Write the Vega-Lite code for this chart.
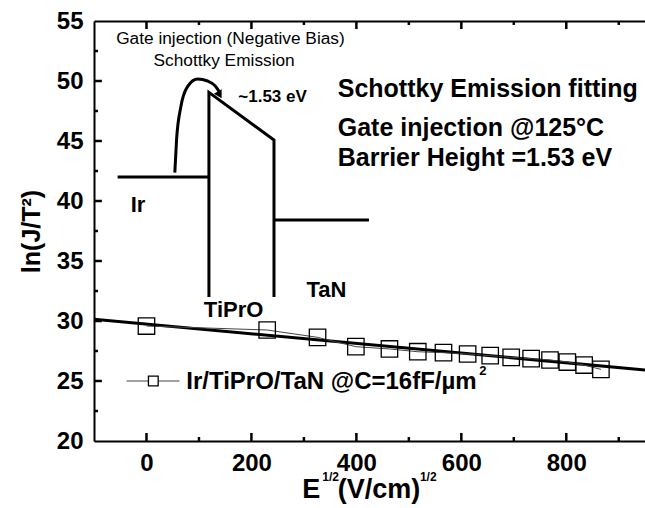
{
  "$schema": "https://vega.github.io/schema/vega-lite/v6.json",
  "width": 551,
  "height": 420,
  "autosize": "none",
  "padding": {"left": 94, "top": 21, "right": 0, "bottom": 67},
  "config": {
    "font": "Liberation Sans",
    "view": {"stroke": null},
    "axis": {
      "grid": false,
      "domainColor": "black",
      "domainWidth": 2,
      "tickColor": "black",
      "tickWidth": 2,
      "labelColor": "black",
      "labelFont": "Liberation Sans",
      "labelFontSize": 24,
      "labelFontWeight": "bold",
      "titleColor": "black",
      "titleFont": "Liberation Sans",
      "titleFontWeight": "bold"
    }
  },
  "datasets": {
    "fit": [{"x": -100, "y": 30.14}, {"x": 950, "y": 25.92}],
    "pts": [
      {"x": 0, "y": 29.58}, {"x": 230, "y": 29.25}, {"x": 326, "y": 28.64}, {"x": 399, "y": 27.86},
      {"x": 463, "y": 27.67}, {"x": 517, "y": 27.44}, {"x": 566, "y": 27.36}, {"x": 612, "y": 27.25},
      {"x": 655, "y": 27.11}, {"x": 695, "y": 26.97}, {"x": 733, "y": 26.86}, {"x": 769, "y": 26.75},
      {"x": 802, "y": 26.58}, {"x": 834, "y": 26.33}, {"x": 866, "y": 25.97}
    ],
    "band": [
      {"seg": "Ir", "o": 0, "x": -55, "y": 42}, {"seg": "Ir", "o": 1, "x": 119, "y": 42},
      {"seg": "bar", "o": 0, "x": 119, "y": 32}, {"seg": "bar", "o": 1, "x": 119, "y": 49.05},
      {"seg": "bar", "o": 2, "x": 243, "y": 45.08}, {"seg": "bar", "o": 3, "x": 243, "y": 32},
      {"seg": "TaN", "o": 0, "x": 243, "y": 38.42}, {"seg": "TaN", "o": 1, "x": 424, "y": 38.42}
    ],
    "ticks": [
      {"k": "b0", "o": 0, "x": 0, "y": 20}, {"k": "b0", "o": 1, "x": 0, "y": 20.67},
      {"k": "b200", "o": 0, "x": 200, "y": 20}, {"k": "b200", "o": 1, "x": 200, "y": 20.67},
      {"k": "b400", "o": 0, "x": 400, "y": 20}, {"k": "b400", "o": 1, "x": 400, "y": 20.67},
      {"k": "b600", "o": 0, "x": 600, "y": 20}, {"k": "b600", "o": 1, "x": 600, "y": 20.67},
      {"k": "b800", "o": 0, "x": 800, "y": 20}, {"k": "b800", "o": 1, "x": 800, "y": 20.67},
      {"k": "b100", "o": 0, "x": 100, "y": 20}, {"k": "b100", "o": 1, "x": 100, "y": 20.33},
      {"k": "b300", "o": 0, "x": 300, "y": 20}, {"k": "b300", "o": 1, "x": 300, "y": 20.33},
      {"k": "b500", "o": 0, "x": 500, "y": 20}, {"k": "b500", "o": 1, "x": 500, "y": 20.33},
      {"k": "b700", "o": 0, "x": 700, "y": 20}, {"k": "b700", "o": 1, "x": 700, "y": 20.33},
      {"k": "b900", "o": 0, "x": 900, "y": 20}, {"k": "b900", "o": 1, "x": 900, "y": 20.33},
      {"k": "t0", "o": 0, "x": 0, "y": 55}, {"k": "t0", "o": 1, "x": 0, "y": 54.33},
      {"k": "t200", "o": 0, "x": 200, "y": 55}, {"k": "t200", "o": 1, "x": 200, "y": 54.33},
      {"k": "t400", "o": 0, "x": 400, "y": 55}, {"k": "t400", "o": 1, "x": 400, "y": 54.33},
      {"k": "t600", "o": 0, "x": 600, "y": 55}, {"k": "t600", "o": 1, "x": 600, "y": 54.33},
      {"k": "t800", "o": 0, "x": 800, "y": 55}, {"k": "t800", "o": 1, "x": 800, "y": 54.33},
      {"k": "t100", "o": 0, "x": 100, "y": 55}, {"k": "t100", "o": 1, "x": 100, "y": 54.67},
      {"k": "t300", "o": 0, "x": 300, "y": 55}, {"k": "t300", "o": 1, "x": 300, "y": 54.67},
      {"k": "t500", "o": 0, "x": 500, "y": 55}, {"k": "t500", "o": 1, "x": 500, "y": 54.67},
      {"k": "t700", "o": 0, "x": 700, "y": 55}, {"k": "t700", "o": 1, "x": 700, "y": 54.67},
      {"k": "t900", "o": 0, "x": 900, "y": 55}, {"k": "t900", "o": 1, "x": 900, "y": 54.67},
      {"k": "l25", "o": 0, "x": -100, "y": 25}, {"k": "l25", "o": 1, "x": -85, "y": 25},
      {"k": "l30", "o": 0, "x": -100, "y": 30}, {"k": "l30", "o": 1, "x": -85, "y": 30},
      {"k": "l35", "o": 0, "x": -100, "y": 35}, {"k": "l35", "o": 1, "x": -85, "y": 35},
      {"k": "l40", "o": 0, "x": -100, "y": 40}, {"k": "l40", "o": 1, "x": -85, "y": 40},
      {"k": "l45", "o": 0, "x": -100, "y": 45}, {"k": "l45", "o": 1, "x": -85, "y": 45},
      {"k": "l50", "o": 0, "x": -100, "y": 50}, {"k": "l50", "o": 1, "x": -85, "y": 50},
      {"k": "l22", "o": 0, "x": -100, "y": 22.5}, {"k": "l22", "o": 1, "x": -92.4, "y": 22.5},
      {"k": "l27", "o": 0, "x": -100, "y": 27.5}, {"k": "l27", "o": 1, "x": -92.4, "y": 27.5},
      {"k": "l32", "o": 0, "x": -100, "y": 32.5}, {"k": "l32", "o": 1, "x": -92.4, "y": 32.5},
      {"k": "l37", "o": 0, "x": -100, "y": 37.5}, {"k": "l37", "o": 1, "x": -92.4, "y": 37.5},
      {"k": "l42", "o": 0, "x": -100, "y": 42.5}, {"k": "l42", "o": 1, "x": -92.4, "y": 42.5},
      {"k": "l47", "o": 0, "x": -100, "y": 47.5}, {"k": "l47", "o": 1, "x": -92.4, "y": 47.5},
      {"k": "l52", "o": 0, "x": -100, "y": 52.5}, {"k": "l52", "o": 1, "x": -92.4, "y": 52.5}
    ],
    "curve": [
      {"x": 54, "y": 42.36}, {"x": 57.3, "y": 45.08}, {"x": 65.5, "y": 47.86}, {"x": 78.2, "y": 49.53},
      {"x": 97.3, "y": 50.17}, {"x": 116.4, "y": 50.0}, {"x": 131.1, "y": 49.58}, {"x": 138.7, "y": 49.1}
    ],
    "arrowhead": [{"x": 139.5, "y": 48.85}],
    "regtext": [
      {"x": 160, "y": 53.47, "t": "Gate injection (Negative Bias)"},
      {"x": 148, "y": 51.69, "t": "Schottky Emission"}
    ],
    "evtext": [{"x": 175, "y": 48.64, "t": "~1.53 eV"}],
    "layertext": [
      {"x": -16.2, "y": 39.67, "t": "Ir"},
      {"x": 166, "y": 30.9, "t": "TiPrO"},
      {"x": 343, "y": 32.58, "t": "TaN"}
    ],
    "bigtext": [
      {"x": 364.5, "y": 49.3, "t": "Schottky Emission fitting"},
      {"x": 364.5, "y": 46.1, "t": "Gate injection @125°C"},
      {"x": 364.5, "y": 43.56, "t": "Barrier Height =1.53 eV"}
    ],
    "legtext": [{"x": 75.8, "y": 24.94, "t": "Ir/TiPrO/TaN @C=16fF/µm"}],
    "legline": [{"x": -38, "y": 25}, {"x": 63, "y": 25}],
    "legsym": [{"x": 13, "y": 25}],
    "sup2": [{"x": 634, "y": 25.8, "t": "2"}],
    "xtitle": [
      {"x": 297, "y": 15.25, "t": "E"},
      {"x": 364.5, "y": 15.25, "t": "(V/cm)"}
    ],
    "xtitlesup": [
      {"x": 335, "y": 16.7, "t": "1/2"},
      {"x": 521, "y": 16.7, "t": "1/2"}
    ]
  },
  "encoding": {
    "x": {"field": "x", "type": "quantitative", "scale": {"domain": [-100, 950], "nice": false, "zero": false}, "axis": null},
    "y": {"field": "y", "type": "quantitative", "scale": {"domain": [20, 55], "nice": false, "zero": false}, "axis": null}
  },
  "layer": [
    {
      "data": {"name": "fit"},
      "mark": {"type": "line", "color": "black", "strokeWidth": 3},
      "encoding": {
        "x": {
          "field": "x", "type": "quantitative",
          "scale": {"domain": [-100, 950], "nice": false, "zero": false},
          "axis": {"orient": "bottom", "values": [0, 200, 400, 600, 800], "ticks": false, "tickSize": 0, "labelPadding": 10, "title": null}
        },
        "y": {
          "field": "y", "type": "quantitative",
          "scale": {"domain": [20, 55], "nice": false, "zero": false},
          "axis": {"orient": "left", "values": [20, 25, 30, 35, 40, 45, 50, 55], "ticks": false, "tickSize": 0, "labelPadding": 11,
                   "title": "ln(J/T²)", "titleFontSize": 25, "titlePadding": 12}
        }
      }
    },
    {
      "data": {"name": "band"},
      "mark": {"type": "line", "color": "black", "strokeWidth": 3, "strokeJoin": "miter"},
      "encoding": {
        "x": {
          "field": "x", "type": "quantitative",
          "scale": {"domain": [-100, 950], "nice": false, "zero": false},
          "axis": {"orient": "top", "values": [0, 200, 400, 600, 800], "labels": false, "ticks": false, "tickSize": 0, "title": null}
        },
        "detail": {"field": "seg"},
        "order": {"field": "o"}
      }
    },
    {
      "data": {"name": "ticks"},
      "mark": {"type": "line", "color": "black", "strokeWidth": 2.5, "strokeCap": "butt"},
      "encoding": {"detail": {"field": "k"}, "order": {"field": "o"}}
    },
    {
      "data": {"name": "pts"},
      "mark": {"type": "line", "color": "#444444", "strokeWidth": 1}
    },
    {
      "data": {"name": "pts"},
      "mark": {"type": "point", "shape": "square", "size": 270, "filled": false, "color": "black", "strokeWidth": 1.3, "opacity": 1}
    },
    {
      "data": {"name": "curve"},
      "mark": {"type": "line", "color": "black", "strokeWidth": 3, "interpolate": "monotone"}
    },
    {
      "data": {"name": "arrowhead"},
      "mark": {"type": "point", "shape": "triangle-down", "size": 80, "filled": true, "color": "black", "opacity": 1, "angle": -30}
    },
    {
      "data": {"name": "legline"},
      "mark": {"type": "line", "color": "#444444", "strokeWidth": 1}
    },
    {
      "data": {"name": "legsym"},
      "mark": {"type": "point", "shape": "square", "size": 95, "filled": true, "fill": "white", "stroke": "black", "strokeWidth": 1.3, "opacity": 1}
    },
    {
      "data": {"name": "regtext"},
      "mark": {"type": "text", "fontSize": 17.3, "align": "center", "baseline": "middle", "color": "black"},
      "encoding": {"text": {"field": "t"}}
    },
    {
      "data": {"name": "evtext"},
      "mark": {"type": "text", "fontSize": 17, "fontWeight": "bold", "align": "left", "baseline": "middle", "color": "black"},
      "encoding": {"text": {"field": "t"}}
    },
    {
      "data": {"name": "layertext"},
      "mark": {"type": "text", "fontSize": 22, "fontWeight": "bold", "align": "center", "baseline": "middle", "color": "black"},
      "encoding": {"text": {"field": "t"}}
    },
    {
      "data": {"name": "bigtext"},
      "mark": {"type": "text", "fontSize": 25, "fontWeight": "bold", "align": "left", "baseline": "middle", "color": "black"},
      "encoding": {"text": {"field": "t"}}
    },
    {
      "data": {"name": "legtext"},
      "mark": {"type": "text", "fontSize": 24, "fontWeight": "bold", "align": "left", "baseline": "middle", "color": "black"},
      "encoding": {"text": {"field": "t"}}
    },
    {
      "data": {"name": "sup2"},
      "mark": {"type": "text", "fontSize": 13, "fontWeight": "bold", "align": "left", "baseline": "middle", "color": "black"},
      "encoding": {"text": {"field": "t"}}
    },
    {
      "data": {"name": "xtitle"},
      "mark": {"type": "text", "fontSize": 27, "fontWeight": "bold", "align": "left", "baseline": "alphabetic", "color": "black"},
      "encoding": {"text": {"field": "t"}}
    },
    {
      "data": {"name": "xtitlesup"},
      "mark": {"type": "text", "fontSize": 12, "fontWeight": "bold", "align": "left", "baseline": "alphabetic", "color": "black"},
      "encoding": {"text": {"field": "t"}}
    }
  ],
  "resolve": {"axis": {"x": "independent", "y": "independent"}}
}
